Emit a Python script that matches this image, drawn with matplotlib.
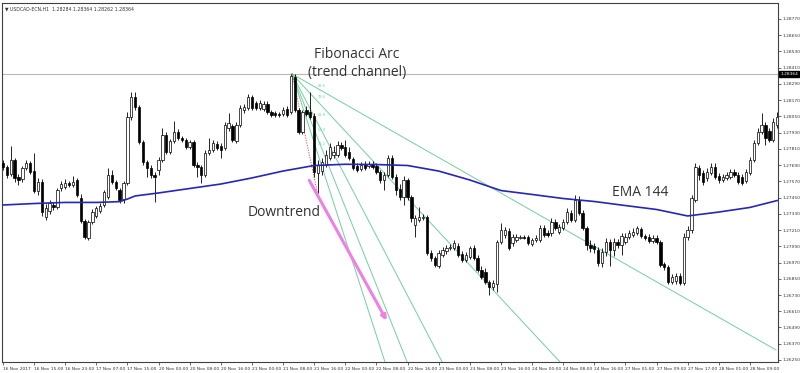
import matplotlib
matplotlib.use("Agg")
import matplotlib.pyplot as plt
import matplotlib.transforms as mtransforms

# USDCAD H1 candles
opens = [1.27705, 1.27676, 1.27624, 1.27728, 1.27602, 1.27587, 1.27668, 1.27705, 1.27646, 1.27498,
         1.27565, 1.27306, 1.27351, 1.27395, 1.27380, 1.27521, 1.27528, 1.27558, 1.27543, 1.27580,
         1.27447, 1.27277, 1.27151, 1.27269, 1.27314, 1.27351, 1.27395, 1.27454, 1.27617, 1.27565,
         1.27506, 1.27439, 1.27558, 1.28045, 1.28193, 1.28119, 1.27861, 1.27713, 1.27668, 1.27617,
         1.27654, 1.27728, 1.27912, 1.27787, 1.27868, 1.27935, 1.27890, 1.27875, 1.27824, 1.27861,
         1.27691, 1.27676, 1.27617, 1.27779, 1.27802, 1.27846, 1.27831, 1.27816, 1.27964, 1.27979,
         1.27868, 1.27986, 1.28097, 1.28112, 1.28193, 1.28149, 1.28112, 1.28104, 1.28141, 1.28082,
         1.28075, 1.28068, 1.28068, 1.28104, 1.28082, 1.28341, 1.28097, 1.27935, 1.28097, 1.28082,
         1.28053, 1.27632, 1.27646, 1.27691, 1.27742, 1.27765, 1.27765, 1.27838, 1.27824, 1.27787,
         1.27735, 1.27683, 1.27661, 1.27698, 1.27683, 1.27698, 1.27683, 1.27639, 1.27580, 1.27617,
         1.27742, 1.27602, 1.27513, 1.27454, 1.27580, 1.27454, 1.27247, 1.27284, 1.27299, 1.27306,
         1.27040, 1.27003, 1.26944, 1.27026, 1.27055, 1.27077, 1.27077, 1.27092, 1.27033, 1.26989,
         1.27011, 1.27077, 1.27003, 1.26915, 1.26900, 1.26826, 1.26789, 1.26811, 1.27122, 1.27173,
         1.27203, 1.27114, 1.27136, 1.27151, 1.27159, 1.27159, 1.27107, 1.27136, 1.27136, 1.27225,
         1.27188, 1.27188, 1.27269, 1.27195, 1.27225, 1.27269, 1.27336, 1.27284, 1.27432, 1.27336,
         1.27225, 1.27099, 1.27092, 1.27063, 1.26966, 1.27048, 1.27122, 1.27063, 1.27122, 1.27099,
         1.27122, 1.27159, 1.27173, 1.27188, 1.27218, 1.27166, 1.27159, 1.27129, 1.27151, 1.27122,
         1.26959, 1.26937, 1.26826, 1.26833, 1.26870, 1.26819, 1.27159, 1.27210, 1.27432, 1.27668,
         1.27632, 1.27595, 1.27632, 1.27676, 1.27609, 1.27580, 1.27595, 1.27602, 1.27639, 1.27617,
         1.27602, 1.27572, 1.27632, 1.27728, 1.27853, 1.27935, 1.27986, 1.27942, 1.27875, 1.27986]
highs = [1.27728, 1.27691, 1.27831, 1.27742, 1.27624, 1.27683, 1.27728, 1.27720, 1.27779, 1.27595,
         1.27587, 1.27402, 1.27432, 1.27417, 1.27521, 1.27572, 1.27587, 1.27572, 1.27609, 1.27595,
         1.27476, 1.27292, 1.27284, 1.27365, 1.27388, 1.27410, 1.27506, 1.27668, 1.27654, 1.27580,
         1.27521, 1.27572, 1.28082, 1.28230, 1.28230, 1.28134, 1.27875, 1.27728, 1.27691, 1.27639,
         1.27750, 1.27964, 1.27935, 1.27883, 1.28016, 1.27957, 1.27905, 1.27890, 1.27875, 1.27875,
         1.27713, 1.27691, 1.27802, 1.27890, 1.27875, 1.27868, 1.27853, 1.28008, 1.28075, 1.27994,
         1.28008, 1.28134, 1.28141, 1.28215, 1.28208, 1.28164, 1.28171, 1.28164, 1.28164, 1.28097,
         1.28090, 1.28082, 1.28119, 1.28127, 1.28364, 1.28364, 1.28112, 1.28097, 1.28127, 1.28230,
         1.28075, 1.27728, 1.27742, 1.27802, 1.27853, 1.27831, 1.27868, 1.27861, 1.27875, 1.27824,
         1.27750, 1.27705, 1.27713, 1.27720, 1.27720, 1.27720, 1.27705, 1.27654, 1.27639, 1.27765,
         1.27765, 1.27624, 1.27550, 1.27609, 1.27595, 1.27469, 1.27321, 1.27380, 1.27329, 1.27321,
         1.27063, 1.27018, 1.27063, 1.27085, 1.27099, 1.27107, 1.27136, 1.27114, 1.27055, 1.27048,
         1.27092, 1.27099, 1.27026, 1.26944, 1.26929, 1.26841, 1.26841, 1.27136, 1.27262, 1.27232,
         1.27225, 1.27181, 1.27181, 1.27173, 1.27173, 1.27173, 1.27151, 1.27173, 1.27247, 1.27247,
         1.27210, 1.27299, 1.27292, 1.27255, 1.27292, 1.27373, 1.27358, 1.27469, 1.27462, 1.27358,
         1.27240, 1.27136, 1.27114, 1.27085, 1.27077, 1.27151, 1.27144, 1.27151, 1.27144, 1.27188,
         1.27188, 1.27210, 1.27225, 1.27240, 1.27232, 1.27181, 1.27181, 1.27173, 1.27173, 1.27136,
         1.26974, 1.26952, 1.26885, 1.26893, 1.26893, 1.27188, 1.27240, 1.27469, 1.27705, 1.27691,
         1.27654, 1.27668, 1.27705, 1.27705, 1.27632, 1.27624, 1.27639, 1.27661, 1.27661, 1.27639,
         1.27624, 1.27661, 1.27750, 1.27875, 1.27964, 1.28075, 1.28008, 1.27964, 1.28038, 1.28082]
lows = [1.27654, 1.27595, 1.27609, 1.27565, 1.27543, 1.27565, 1.27654, 1.27624, 1.27484, 1.27469,
        1.27314, 1.27284, 1.27329, 1.27358, 1.27365, 1.27498, 1.27513, 1.27528, 1.27528, 1.27454,
        1.27262, 1.27144, 1.27136, 1.27255, 1.27299, 1.27336, 1.27380, 1.27439, 1.27550, 1.27506,
        1.27410, 1.27410, 1.27543, 1.28023, 1.28097, 1.27846, 1.27691, 1.27602, 1.27595, 1.27417,
        1.27617, 1.27713, 1.27772, 1.27772, 1.27853, 1.27875, 1.27861, 1.27809, 1.27809, 1.27676,
        1.27602, 1.27558, 1.27602, 1.27765, 1.27787, 1.27802, 1.27742, 1.27802, 1.27942, 1.27861,
        1.27853, 1.27971, 1.28075, 1.28097, 1.28097, 1.28097, 1.28097, 1.28090, 1.28068, 1.28045,
        1.28045, 1.28045, 1.28053, 1.28045, 1.28068, 1.28082, 1.27920, 1.27920, 1.28053, 1.28031,
        1.27602, 1.27484, 1.27617, 1.27676, 1.27728, 1.27742, 1.27750, 1.27802, 1.27750, 1.27728,
        1.27654, 1.27639, 1.27646, 1.27654, 1.27668, 1.27661, 1.27624, 1.27558, 1.27506, 1.27602,
        1.27587, 1.27469, 1.27432, 1.27395, 1.27432, 1.27269, 1.27159, 1.27269, 1.27284, 1.27026,
        1.26981, 1.26937, 1.26929, 1.27011, 1.27033, 1.27063, 1.27063, 1.27011, 1.26974, 1.26974,
        1.26996, 1.26989, 1.26900, 1.26848, 1.26811, 1.26730, 1.26767, 1.26752, 1.27107, 1.27151,
        1.27063, 1.27092, 1.27122, 1.27144, 1.27144, 1.27099, 1.27092, 1.27122, 1.27122, 1.27159,
        1.27159, 1.27166, 1.27210, 1.27181, 1.27210, 1.27255, 1.27269, 1.27269, 1.27321, 1.27210,
        1.27063, 1.27048, 1.27040, 1.26944, 1.26937, 1.27018, 1.26944, 1.27018, 1.27077, 1.27026,
        1.27107, 1.27144, 1.27159, 1.27173, 1.27151, 1.27136, 1.27114, 1.27114, 1.27107, 1.26937,
        1.26915, 1.26811, 1.26811, 1.26811, 1.26804, 1.26804, 1.27136, 1.27188, 1.27417, 1.27580,
        1.27543, 1.27572, 1.27617, 1.27587, 1.27558, 1.27565, 1.27580, 1.27587, 1.27602, 1.27550,
        1.27543, 1.27558, 1.27617, 1.27713, 1.27838, 1.27920, 1.27838, 1.27861, 1.27861, 1.27964]
closes = [1.27676, 1.27617, 1.27728, 1.27595, 1.27580, 1.27668, 1.27705, 1.27639, 1.27498, 1.27565,
          1.27343, 1.27373, 1.27410, 1.27380, 1.27506, 1.27550, 1.27558, 1.27543, 1.27565, 1.27469,
          1.27277, 1.27159, 1.27269, 1.27343, 1.27373, 1.27388, 1.27491, 1.27617, 1.27565, 1.27521,
          1.27432, 1.27558, 1.28045, 1.28193, 1.28119, 1.27861, 1.27713, 1.27668, 1.27617, 1.27602,
          1.27728, 1.27912, 1.27787, 1.27868, 1.27935, 1.27890, 1.27875, 1.27824, 1.27861, 1.27691,
          1.27676, 1.27617, 1.27779, 1.27802, 1.27853, 1.27816, 1.27802, 1.27986, 1.28001, 1.27875,
          1.27986, 1.28112, 1.28119, 1.28193, 1.28112, 1.28112, 1.28149, 1.28141, 1.28082, 1.28060,
          1.28060, 1.28060, 1.28097, 1.28060, 1.28348, 1.28097, 1.27935, 1.28082, 1.28068, 1.28045,
          1.27639, 1.27691, 1.27713, 1.27765, 1.27824, 1.27787, 1.27838, 1.27816, 1.27765, 1.27742,
          1.27668, 1.27654, 1.27691, 1.27668, 1.27698, 1.27676, 1.27639, 1.27580, 1.27617, 1.27742,
          1.27602, 1.27506, 1.27454, 1.27580, 1.27454, 1.27299, 1.27299, 1.27306, 1.27306, 1.27040,
          1.27003, 1.26952, 1.27040, 1.27063, 1.27077, 1.27085, 1.27114, 1.27026, 1.26989, 1.27026,
          1.27077, 1.27003, 1.26915, 1.26863, 1.26826, 1.26789, 1.26819, 1.27122, 1.27210, 1.27210,
          1.27077, 1.27159, 1.27159, 1.27159, 1.27151, 1.27114, 1.27136, 1.27151, 1.27225, 1.27173,
          1.27173, 1.27269, 1.27225, 1.27232, 1.27269, 1.27343, 1.27284, 1.27432, 1.27336, 1.27225,
          1.27099, 1.27077, 1.27070, 1.26966, 1.27048, 1.27122, 1.27063, 1.27122, 1.27099, 1.27166,
          1.27159, 1.27188, 1.27195, 1.27225, 1.27166, 1.27151, 1.27129, 1.27151, 1.27122, 1.26952,
          1.26937, 1.26826, 1.26863, 1.26870, 1.26819, 1.27159, 1.27210, 1.27447, 1.27676, 1.27617,
          1.27565, 1.27639, 1.27676, 1.27602, 1.27580, 1.27602, 1.27617, 1.27639, 1.27617, 1.27565,
          1.27558, 1.27639, 1.27728, 1.27853, 1.27935, 1.27986, 1.27890, 1.27875, 1.28008, 1.28045]

# EMA 144 sampled along the blue line
ema_bars = [0, 8, 16, 24, 30, 32, 34, 40, 48, 56, 64, 72, 80, 88, 96, 104, 112, 120,
            128, 136, 144, 152, 160, 168, 176, 184, 192, 199]
ema_vals = [1.27395, 1.27406, 1.27414, 1.27414, 1.27420, 1.27439, 1.27462, 1.27484, 1.27517,
            1.27550, 1.27595, 1.27646, 1.27687, 1.27696, 1.27694, 1.27687, 1.27646, 1.27580,
            1.27502, 1.27473, 1.27443, 1.27421, 1.27391, 1.27362, 1.27314, 1.27343, 1.27377, 1.27428]

x_labels = ["16 Nov 2017", "16 Nov 15:00", "16 Nov 23:00", "17 Nov 07:00", "17 Nov 15:00",
            "20 Nov 00:00", "20 Nov 08:00", "20 Nov 16:00", "21 Nov 00:00", "21 Nov 08:00",
            "21 Nov 16:00", "22 Nov 00:00", "22 Nov 08:00", "22 Nov 16:00", "23 Nov 00:00",
            "23 Nov 08:00", "23 Nov 16:00", "24 Nov 00:00", "24 Nov 08:00", "24 Nov 16:00",
            "27 Nov 01:00", "27 Nov 09:00", "27 Nov 17:00", "28 Nov 01:00", "28 Nov 09:00"]
y_ticks = [1.28770, 1.28650, 1.28530, 1.28410, 1.28290, 1.28170, 1.28050, 1.27930, 1.27810,
           1.27690, 1.27570, 1.27450, 1.27330, 1.27210, 1.27090, 1.26970, 1.26850, 1.26730,
           1.26610, 1.26490, 1.26370, 1.26250]
bid = 1.28364

# fibonacci fan drawn from the swing high
fan_start = (74.3, 1.28364)
fan_levels = ["88.6", "78.6", "61.8", "50.0", "38.2"]
fan_end_bar = [198.7, 143.2, 112.9, 103.9, 98.2]
fan_end_price = [1.26324, 1.26235, 1.26235, 1.26235, 1.26235]
fan_label_price = [1.28274, 1.28193, 1.28060, 1.27949, 1.27846]
swing_low = (80.8, 1.27491)

fig = plt.figure(figsize=(8, 3.73), dpi=100)
ax = fig.add_axes([0.003, 0.0295, 0.9694, 0.9633])
ax.set_xlim(-0.13, 199.2)
ax.set_ylim(1.26235, 1.28890)

xs = list(range(len(closes)))
ax.vlines(xs, lows, highs, color="black", lw=0.6, zorder=2)
for i in xs:
    o, c = opens[i], closes[i]
    h = max(abs(c - o), 0.000012)
    fc = "white" if c >= o else "black"
    ax.bar(i, h, bottom=min(o, c), width=0.6, color=fc, edgecolor="black",
           linewidth=0.5, zorder=3)

ax.plot(ema_bars, ema_vals, color="#2626b8", lw=1.2, zorder=4)

ax.axhline(bid, color="#b8b8b8", lw=0.8, zorder=1)

for lv, eb, ep, lp in zip(fan_levels, fan_end_bar, fan_end_price, fan_label_price):
    ax.plot([fan_start[0], eb], [fan_start[1], ep], color="#72cf9f", lw=0.7, zorder=1)
    ax.text(81.0, lp, lv, fontsize=2.6, color="#72cf9f", va="center", zorder=5)
ax.plot([fan_start[0], swing_low[0]], [fan_start[1], swing_low[1]], color="#e04040",
        lw=0.6, ls=(0, (1.5, 1.5)), zorder=1)

ax.annotate("", xy=(99, 1.26523), xytext=(78.4, 1.27595),
            arrowprops=dict(arrowstyle="-|>", color="#ee80e2", lw=2.2, mutation_scale=7),
            zorder=5)

tf = ["Open Sans", "DejaVu Sans"]
ax.text(91, 1.28440, "Fibonacci Arc\n(trend channel)", ha="center", va="center",
        fontsize=10, family=tf, color="#333333", linespacing=1.2, zorder=6)
ax.text(63, 1.27336, "Downtrend", ha="left", va="center", fontsize=10, family=tf,
        color="#333333", zorder=6)
ax.text(156.6, 1.27484, "EMA 144", ha="left", va="center", fontsize=10, family=tf,
        color="#333333", zorder=6)

# axes in MT4 style
ax.yaxis.tick_right()
ax.set_yticks(y_ticks)
ax.set_yticklabels(["%.5f" % v for v in y_ticks])
ax.set_xticks(range(0, 8 * len(x_labels), 8))
ax.set_xticklabels(x_labels, ha="left")
ax.tick_params(axis="both", labelsize=3.2, colors="#333333", length=2, width=0.5, pad=1.5)
for s in ax.spines.values():
    s.set_linewidth(0.8)
    s.set_color("#404040")

trans = mtransforms.blended_transform_factory(ax.transAxes, ax.transData)
ax.text(1.003, bid, "1.28364", transform=trans, fontsize=3.2, color="white",
        va="center", ha="left",
        bbox=dict(boxstyle="square,pad=0.25", fc="black", ec="black"), zorder=7)

fig.text(0.006, 0.982, "\u25bc USDCAD-ECN,H1  1.28284 1.28364 1.28262 1.28364",
         fontsize=3.3, color="#333333", va="top", ha="left")

fig.savefig("out.png", dpi=100, facecolor="white")
